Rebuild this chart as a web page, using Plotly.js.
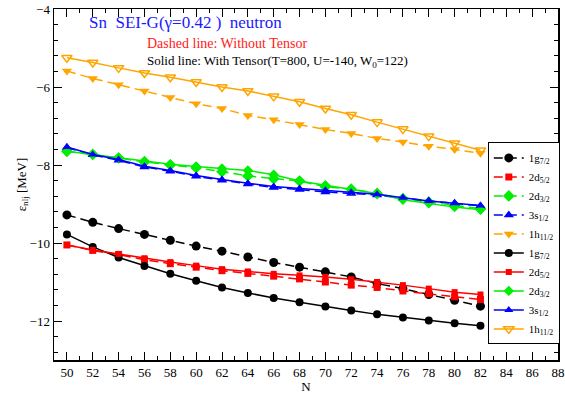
<!DOCTYPE html>
<html>
<head>
<meta charset="utf-8">
<script src="https://cdn.plot.ly/plotly-3.0.1.min.js"></script>
<style>html,body{margin:0;padding:0;background:#fff;}#chart{width:565px;height:394px;}</style>
</head>
<body>
<div id="chart"></div>
<script>
const N = [50,52,54,56,58,60,62,64,66,68,70,72,74,76,78,80,82];

// Dashed: without tensor
const g72_wo  = [-9.28,-9.47,-9.63,-9.78,-9.93,-10.08,-10.21,-10.36,-10.50,-10.62,-10.74,-10.87,-11.04,-11.17,-11.32,-11.47,-11.62];
const d52_wo  = [-10.05,-10.19,-10.30,-10.43,-10.53,-10.62,-10.71,-10.78,-10.85,-10.92,-11.00,-11.08,-11.14,-11.23,-11.30,-11.38,-11.45];
const d32_wo  = [-7.65,-7.73,-7.82,-7.92,-8.00,-8.07,-8.17,-8.28,-8.35,-8.41,-8.56,-8.62,-8.73,-8.86,-8.95,-9.03,-9.12];
const s12_wo  = [-7.55,-7.74,-7.88,-8.05,-8.16,-8.29,-8.39,-8.49,-8.58,-8.63,-8.69,-8.73,-8.77,-8.85,-8.92,-8.98,-9.05];
const h112_wo = [-5.59,-5.78,-5.94,-6.10,-6.27,-6.43,-6.55,-6.73,-6.84,-6.96,-7.09,-7.19,-7.32,-7.41,-7.52,-7.60,-7.70];

// Solid: with tensor
const g72_w  = [-9.78,-10.10,-10.37,-10.59,-10.79,-10.97,-11.14,-11.28,-11.41,-11.52,-11.63,-11.73,-11.83,-11.91,-11.99,-12.06,-12.12];
const d52_w  = [-10.05,-10.18,-10.28,-10.39,-10.49,-10.58,-10.67,-10.73,-10.79,-10.83,-10.87,-10.93,-11.00,-11.08,-11.17,-11.26,-11.32];
const d32_w  = [-7.65,-7.73,-7.81,-7.90,-7.98,-8.04,-8.09,-8.14,-8.25,-8.41,-8.52,-8.63,-8.73,-8.89,-8.98,-9.08,-9.15];
const s12_w  = [-7.54,-7.73,-7.86,-8.03,-8.14,-8.27,-8.37,-8.47,-8.55,-8.60,-8.65,-8.70,-8.75,-8.84,-8.92,-8.98,-9.04];
const h112_w = [-5.25,-5.37,-5.51,-5.64,-5.75,-5.87,-6.00,-6.10,-6.24,-6.38,-6.55,-6.71,-6.90,-7.08,-7.26,-7.44,-7.62];

const labels = ['1g<sub>7/2</sub>','2d<sub>5/2</sub>','2d<sub>3/2</sub>','3s<sub>1/2</sub>','1h<sub>11/2</sub>'];
const colors = ['#000000','#FF0000','#00EE00','#0000FF','#FFA500'];
const symbols = ['circle','square','diamond','triangle-up','triangle-down'];
const sizes = [9, 7, 9, 9, 9];
const woData = [g72_wo,d52_wo,d32_wo,s12_wo,h112_wo];
const wData  = [g72_w,d52_w,d32_w,s12_w,h112_w];

const traces = [];
for (let i = 0; i < 5; i++) {
  traces.push({
    x: N, y: woData[i], name: labels[i], type: 'scatter', mode: 'lines+markers',
    line: {color: colors[i], width: 1.5, dash: '9px,5px'},
    marker: {color: colors[i], symbol: symbols[i], size: sizes[i]}
  });
}
for (let i = 0; i < 5; i++) {
  const open = (i === 4);
  traces.push({
    x: N, y: wData[i], name: labels[i], type: 'scatter', mode: 'lines+markers',
    line: {color: colors[i], width: 1.5},
    marker: open ? {color: colors[i], symbol: 'triangle-down-open', size: 9, line: {width: 1.5, color: colors[i]}}
                 : {color: colors[i], symbol: symbols[i], size: sizes[i] - 1}
  });
}

const font = 'Liberation Serif, Times New Roman, serif';
const layout = {
  width: 565, height: 394,
  margin: {l: 54, r: 6, t: 9, b: 34},
  paper_bgcolor: '#fff', plot_bgcolor: '#fff',
  font: {family: font, size: 13, color: '#000'},
  showlegend: true,
  legend: {x: 0.859, y: 0.62, xanchor: 'left', yanchor: 'top',
           bgcolor: '#fff', bordercolor: '#000', borderwidth: 1,
           font: {family: font, size: 11, color: '#000'}, tracegroupgap: 0, itemwidth: 30},
  xaxis: {range: [49, 88], tick0: 50, dtick: 2, ticks: 'inside', ticklen: 8, tickwidth: 1,
          tickcolor: '#000', showline: true, linecolor: '#000', linewidth: 1.5, mirror: 'allticks',
          showgrid: false, zeroline: false, tickfont: {family: font, size: 13}, ticklabeloverflow: 'allow',
          minor: {dtick: 1, ticks: 'inside', ticklen: 4, tickcolor: '#000', showgrid: false},
          title: {text: 'N', font: {family: font, size: 13}, standoff: 0}},
  yaxis: {range: [-13, -4], tick0: -12, dtick: 2, ticks: 'inside', ticklen: 8, tickwidth: 1,
          tickcolor: '#000', showline: true, linecolor: '#000', linewidth: 1.5, mirror: 'allticks',
          showgrid: false, zeroline: false, tickfont: {family: font, size: 13}, ticklabeloverflow: 'allow',
          minor: {dtick: 0.4, ticks: 'inside', ticklen: 4, tickcolor: '#000', showgrid: false},
          title: {text: 'ε<sub>nlj</sub> [MeV]', font: {family: font, size: 13}, standoff: 0}},
  annotations: [
    {xref: 'paper', yref: 'paper', x: 0.065, y: 0.962, xanchor: 'left', yanchor: 'middle', showarrow: false,
     text: 'Sn  SEI-G(γ=0.42 )  neutron', font: {family: font, size: 17, color: '#1a1aff'}},
    {xref: 'paper', yref: 'paper', x: 0.18, y: 0.902, xanchor: 'left', yanchor: 'middle', showarrow: false,
     text: 'Dashed line: Without Tensor', font: {family: font, size: 14, color: '#ff2020'}},
    {xref: 'paper', yref: 'paper', x: 0.18, y: 0.851, xanchor: 'left', yanchor: 'middle', showarrow: false,
     text: 'Solid line: With Tensor(T=800, U=-140, W<sub>0</sub>=122)', font: {family: font, size: 13, color: '#000'}}
  ]
};
Plotly.newPlot('chart', traces, layout, {displayModeBar: false, staticPlot: true});
</script>
</body>
</html>
